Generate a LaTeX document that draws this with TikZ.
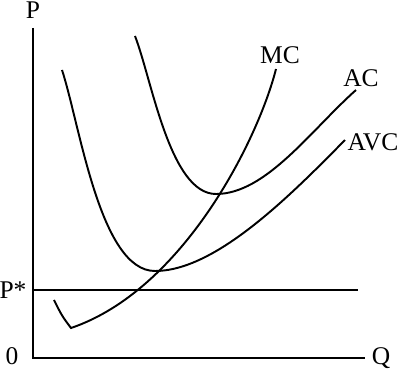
\documentclass[tikz,border=0pt]{standalone}
\usepackage{fontspec}
\setmainfont{Liberation Serif}
\tikzset{
  curve/.style={line width=1.1pt},
  lbl/.style={font=\fontsize{14.5}{17}\selectfont, inner sep=0pt}
}
\begin{document}
\begin{tikzpicture}[x=0.02cm, y=-0.02cm]
            \useasboundingbox (0,0) rectangle (400,372);
            % axes
            \coordinate (top) at (33,28);
            \coordinate (origin) at (33,358);
            \coordinate (right) at (365,358);
            \draw[curve] (top) -- (origin) -- (right);
            \node[lbl] (p) at (33,10) {P};
            \node[lbl] (q) at (381,358) {Q};
            \node[lbl] (zero) at (12,356) {0};
            % price line
            \coordinate (pstart) at (33,290);
            \coordinate (pend) at (358,290);
            \draw[curve] (pstart) -- (pend);
            \node[lbl] (pstar) at (13,290) {P*};
            % AVC
            \draw[curve] (62,70) .. controls (80,125) and (100,271) .. (155,271)
                .. controls (215,271) and (289,197) .. (345,140);
            \node[lbl] (avc) at (373,142) {AVC};
            % AC
            \draw[curve] (135,36) .. controls (152,80) and (170,194) .. (216,194)
                .. controls (266,194) and (311,130) .. (356,90);
            \node[lbl] (ac) at (361,78) {AC};
            % MC
            \draw[curve] (54,300) .. controls (62,316) .. (71,328)
                .. controls (183,290) and (258,140) .. (276,69);
            \node[lbl] (mc) at (280,55) {MC};
        \end{tikzpicture}
\end{document}
